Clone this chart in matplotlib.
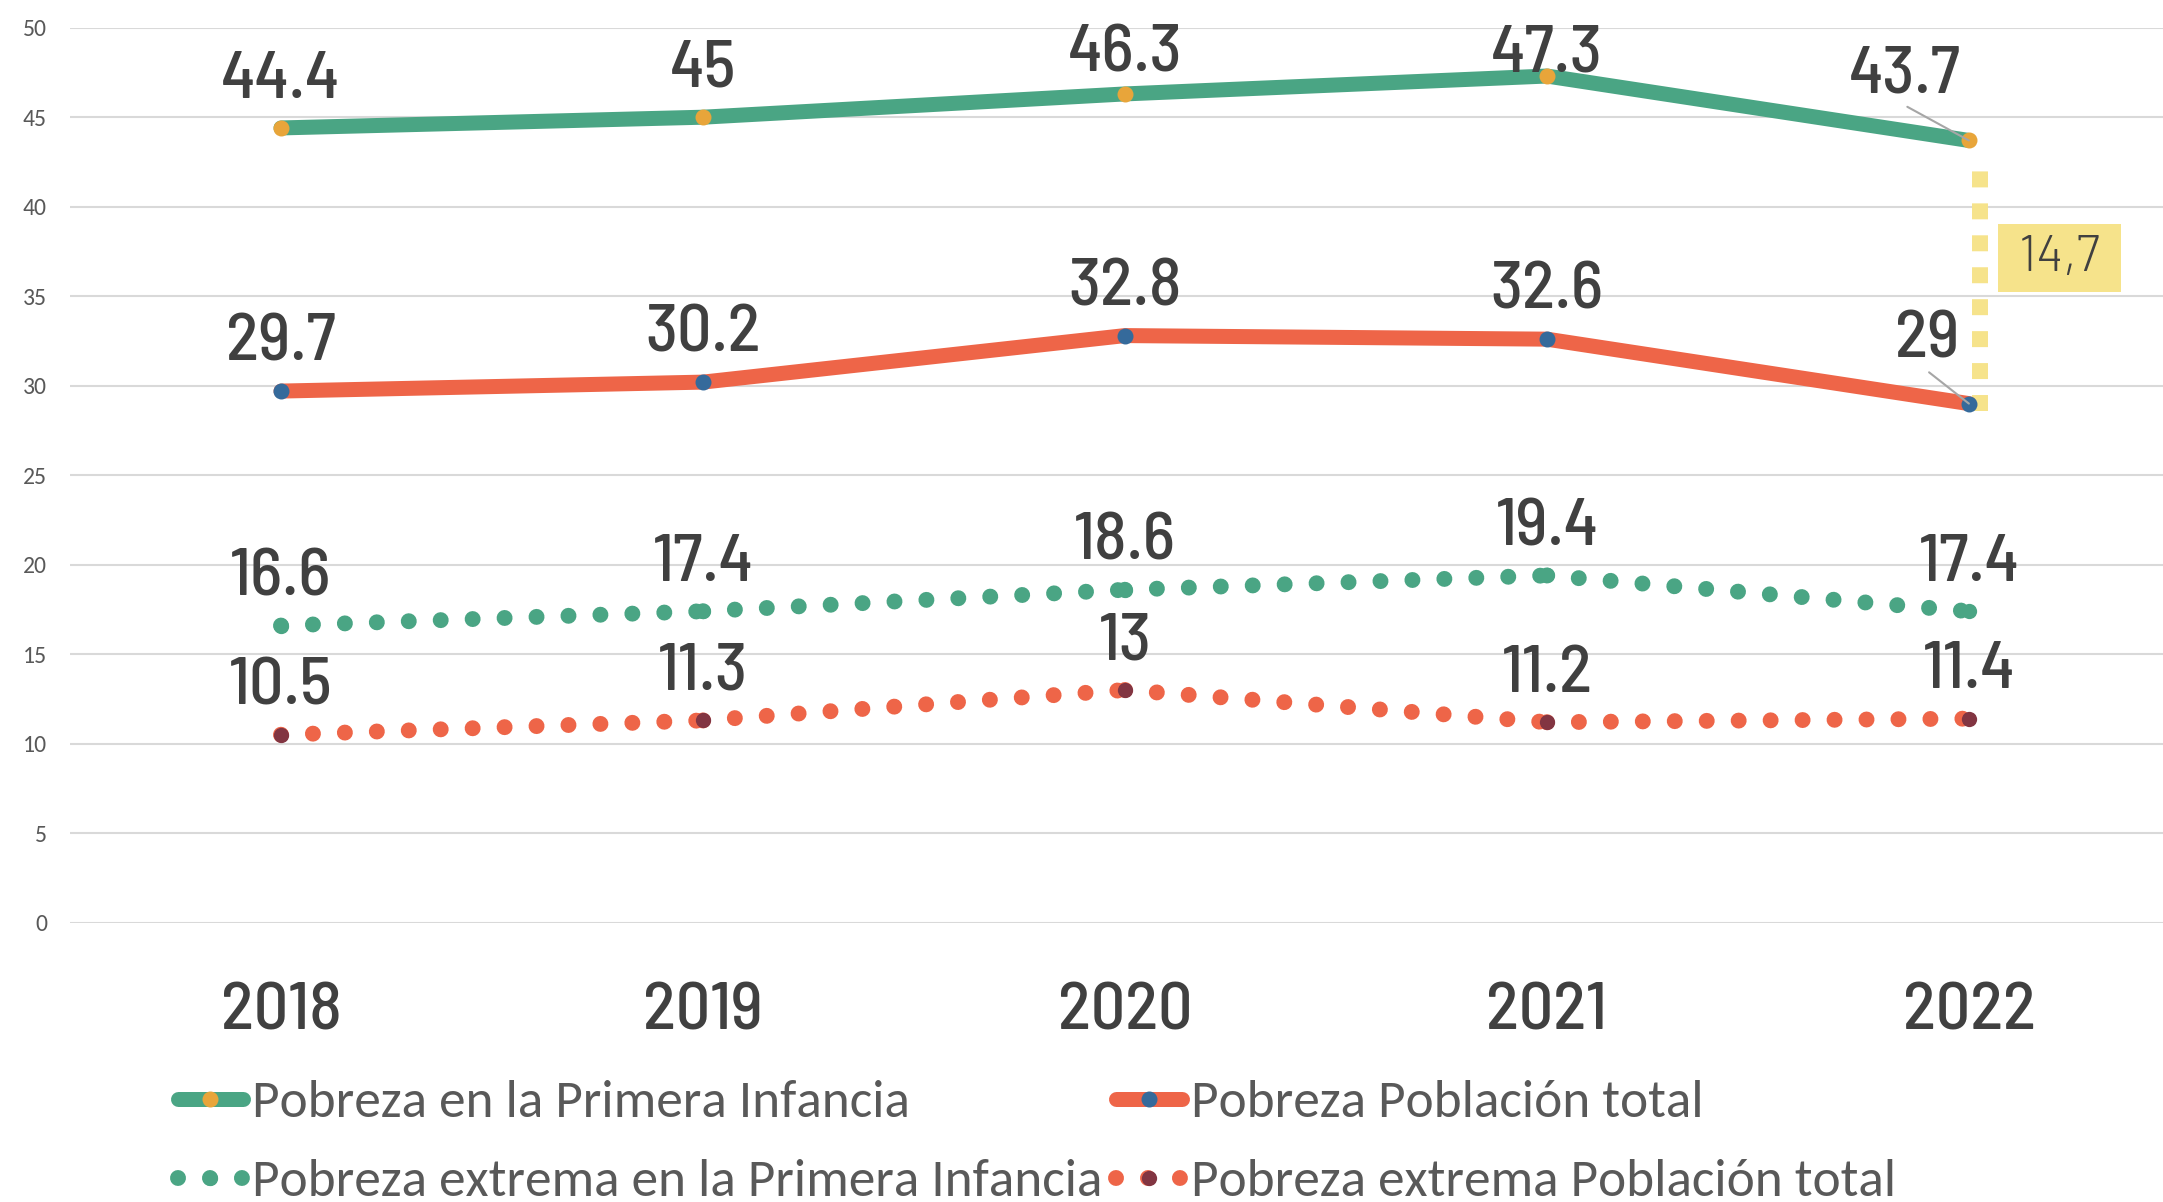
import numpy as np
import matplotlib
matplotlib.use('Agg')
import matplotlib.pyplot as plt
from matplotlib.lines import Line2D
from matplotlib.transforms import IdentityTransform

# Datos
years = ['2018', '2019', '2020', '2021', '2022']
pobreza_infancia = [44.4, 45, 46.3, 47.3, 43.7]
pobreza_total = [29.7, 30.2, 32.8, 32.6, 29]
extrema_infancia = [16.6, 17.4, 18.6, 19.4, 17.4]
extrema_total = [10.5, 11.3, 13, 11.2, 11.4]
nombres = ['Pobreza en la Primera Infancia', 'Pobreza Población total',
           'Pobreza extrema en la Primera Infancia', 'Pobreza extrema Población total']

# Colores
verde = '#4AA584'
rojo = '#EE6548'
naranja = '#E8A53A'
azul = '#356A9B'
granate = '#823542'
amarillo = '#F6E38B'
gris_txt = '#404040'
gris_eje = '#595959'

num_font = ['Barlow Semi Condensed', 'Roboto', 'DejaVu Sans']
txt_font = ['Carlito', 'Lato', 'DejaVu Sans']

lw_solid = 10.8   # pt (~15 px)
lw_dot = 11.5     # pt (~16 px)
ms = 11.5

fig = plt.figure(figsize=(21.63, 12.02), dpi=100)
ax = fig.add_axes([70/2163, 279.3/1202, 1 - 70/2163, 895/1202])
x = np.arange(len(years))
ax.set_xlim(-0.5, 4.46)
ax.set_ylim(0, 50)

# lineas continuas
ax.plot(x, pobreza_infancia, color=verde, lw=lw_solid, solid_capstyle='round',
        solid_joinstyle='round', marker='o', ms=ms, mfc=naranja, mew=0, zorder=4)
ax.plot(x, pobreza_total, color=rojo, lw=lw_solid, solid_capstyle='round',
        solid_joinstyle='round', marker='o', ms=ms, mfc=azul, mew=0, zorder=4)
h1 = Line2D([], [], color=verde, lw=lw_solid, solid_capstyle='round', marker='o',
            ms=ms, mfc=naranja, mew=0, label=nombres[0])
h2 = Line2D([], [], color=rojo, lw=lw_solid, solid_capstyle='round', marker='o',
            ms=ms, mfc=azul, mew=0, label=nombres[1])


# lineas punteadas, cada tramo por separado (como en excel)
def punteada(vals, color, mcolor, label):
    for i in range(len(vals) - 1):
        ax.plot(x[i:i+2], vals[i:i+2], color=color, lw=lw_dot, dashes=(0.001, 2),
                dash_capstyle='round', zorder=3)
    ax.plot(x, vals, ls='none', marker='o', ms=11, mfc=mcolor, mew=0, zorder=4)
    return Line2D([], [], color=color, lw=lw_dot, dashes=(0.001, 2), dash_capstyle='round',
                  marker='o', ms=11, mfc=mcolor, mew=0, label=label)


h3 = punteada(extrema_infancia, verde, verde, nombres[2])
h4 = punteada(extrema_total, rojo, granate, nombres[3])

# etiquetas de datos
tope = 47.55
lbl_kw = dict(ha='center', va='baseline', fontsize=49, fontweight=500,
              family=num_font, color=gris_txt, zorder=6)
for serie, especial in [(pobreza_infancia, (-64, 48)), (pobreza_total, (-42, 46)),
                        (extrema_infancia, None), (extrema_total, None)]:
    for i, v in enumerate(serie):
        if especial is not None and i == len(serie) - 1:
            ax.annotate('%g' % v, xy=(x[i], v), xytext=especial, textcoords='offset pixels',
                        arrowprops=dict(arrowstyle='-', color='#A6A6A6', lw=1.5,
                                        relpos=(0.5, 0), shrinkA=2, shrinkB=0, patchA=None),
                        **lbl_kw)
        else:
            ax.annotate('%g' % v, xy=(x[i], v), xytext=(x[i], min(v + 1.7, tope)),
                        textcoords='data', **lbl_kw)

# brecha 2022: conector punteado amarillo entre las dos series
brecha = pobreza_infancia[-1] - pobreza_total[-1]
p0 = ax.transData.transform((x[-1], pobreza_total[-1]))
p1 = ax.transData.transform((x[-1], pobreza_infancia[-1]))
ax.plot([p0[0] + 11, p1[0] + 11], [p0[1] - 7, p1[1] - 30], transform=IdentityTransform(),
        color=amarillo, lw=lw_dot, dashes=(1, 1), dash_capstyle='butt', zorder=2)
ax.annotate(' %s ' % ('%.1f' % brecha).replace('.', ','),
            xy=(x[-1], (pobreza_infancia[-1] + pobreza_total[-1]) / 2),
            xytext=(91, 14), textcoords='offset pixels', ha='center', va='center',
            fontsize=36, fontweight=300, family=['Barlow'] + num_font, color=gris_txt,
            bbox=dict(boxstyle='square,pad=0.22', fc=amarillo, ec='none'), zorder=6)

# ejes
ax.set_yticks(range(0, 51, 5))
ax.set_xticks(x, years)
ax.grid(axis='y', color='#D9D9D9', lw=1.5)
ax.grid(axis='x', visible=False)
ax.set_axisbelow(True)
for s in ax.spines.values():
    s.set_visible(False)
ax.tick_params(axis='y', length=0, pad=16.5, labelsize=17, labelcolor=gris_eje)
ax.tick_params(axis='x', length=0, pad=43, labelsize=49, labelcolor=gris_txt)
for t in ax.get_yticklabels():
    t.set_family(txt_font)
for t in ax.get_xticklabels():
    t.set_family(num_font)
    t.set_fontweight(500)

leg = fig.legend(handles=[h1, h3, h2, h4], loc='upper left',
                 bbox_to_anchor=(177.5/2163, 1 - 1080/1202), ncol=2, frameon=False,
                 prop=dict(family=txt_font, size=38.3), handlelength=1.24,
                 handletextpad=0.155, columnspacing=0.27, labelspacing=0.62,
                 borderpad=0, borderaxespad=0)
for t in leg.get_texts():
    t.set_color(gris_eje)

fig.savefig('out.png', dpi=100)
